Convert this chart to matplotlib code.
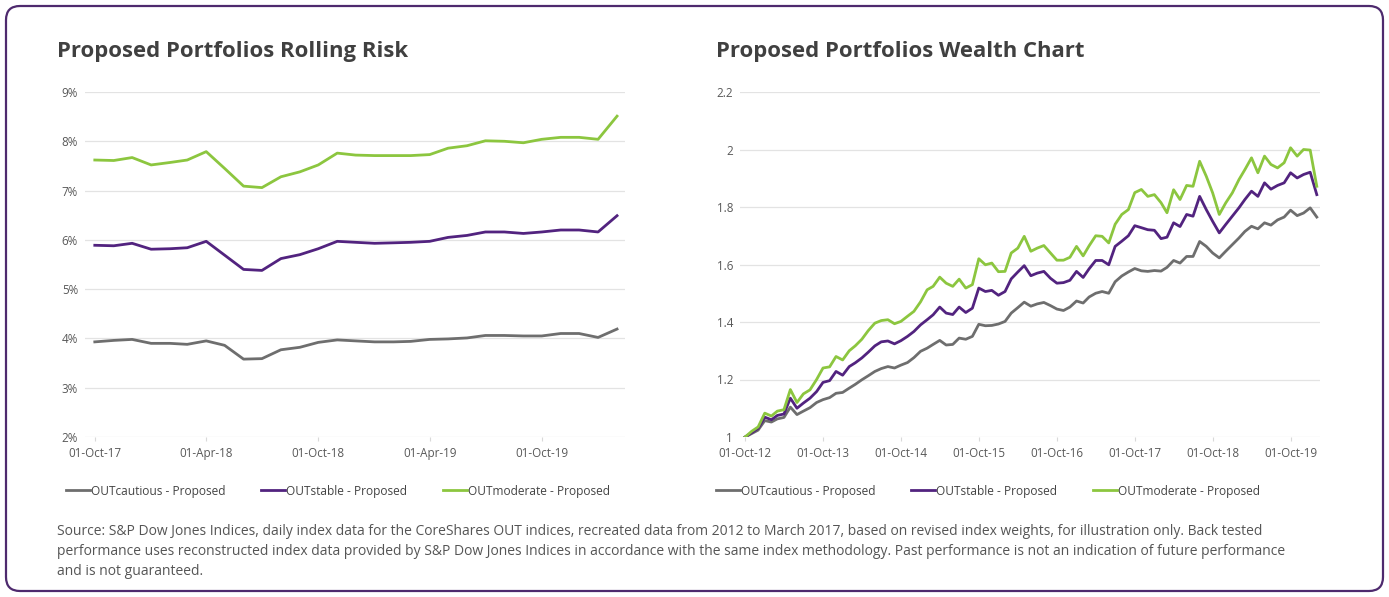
import matplotlib
matplotlib.use("Agg")
import matplotlib.pyplot as plt
import matplotlib.dates as mdates
from matplotlib.patches import FancyBboxPatch
from matplotlib.ticker import FuncFormatter
import numpy as np
import pandas as pd

plt.rcParams['font.family'] = ['Open Sans', 'DejaVu Sans']

# rolling risk, monthly Oct-17 .. Feb-20 (%)
risk_dates = pd.date_range("2017-10-01", periods=29, freq="MS")
risk_cautious = [3.93, 3.96, 3.98, 3.90, 3.90, 3.88, 3.95, 3.86, 3.58, 3.59,
                 3.77, 3.82, 3.92, 3.97, 3.95, 3.93, 3.93, 3.94, 3.98, 3.99,
                 4.01, 4.06, 4.06, 4.05, 4.05, 4.10, 4.10, 4.02, 4.19]
risk_stable = [5.89, 5.88, 5.93, 5.81, 5.82, 5.84, 5.97, 5.69, 5.40, 5.38,
               5.62, 5.70, 5.82, 5.97, 5.95, 5.93, 5.94, 5.95, 5.97, 6.05,
               6.09, 6.16, 6.16, 6.13, 6.16, 6.20, 6.20, 6.16, 6.49]
risk_moderate = [7.62, 7.61, 7.67, 7.52, 7.57, 7.62, 7.79, 7.45, 7.09, 7.06,
                 7.28, 7.38, 7.52, 7.76, 7.72, 7.71, 7.71, 7.71, 7.73, 7.86,
                 7.91, 8.01, 8.00, 7.97, 8.04, 8.08, 8.08, 8.04, 8.51]

# wealth, monthly Oct-12 .. Feb-20
wealth_dates = pd.date_range("2012-10-01", periods=89, freq="MS")
wealth_cautious = [1.000, 1.012, 1.024, 1.057, 1.052, 1.063, 1.068, 1.104, 1.078, 1.090,
                   1.102, 1.120, 1.130, 1.137, 1.152, 1.155, 1.170, 1.183, 1.199, 1.213,
                   1.228, 1.238, 1.245, 1.240, 1.250, 1.259, 1.276, 1.298, 1.309, 1.322,
                   1.336, 1.320, 1.322, 1.344, 1.340, 1.350, 1.392, 1.387, 1.388, 1.393,
                   1.402, 1.431, 1.450, 1.469, 1.455, 1.463, 1.468, 1.457, 1.445, 1.440,
                   1.452, 1.473, 1.466, 1.487, 1.500, 1.506, 1.500, 1.540, 1.560, 1.574,
                   1.586, 1.578, 1.576, 1.579, 1.577, 1.590, 1.614, 1.605, 1.628, 1.628,
                   1.680, 1.663, 1.640, 1.623, 1.646, 1.669, 1.692, 1.715, 1.733, 1.724,
                   1.745, 1.737, 1.755, 1.765, 1.789, 1.770, 1.779, 1.797, 1.765]
wealth_stable = [1.000, 1.015, 1.030, 1.069, 1.060, 1.075, 1.080, 1.135, 1.100, 1.118,
                 1.135, 1.158, 1.190, 1.196, 1.228, 1.215, 1.245, 1.258, 1.275, 1.295,
                 1.317, 1.331, 1.334, 1.324, 1.335, 1.350, 1.367, 1.390, 1.408, 1.425,
                 1.452, 1.431, 1.426, 1.452, 1.433, 1.448, 1.518, 1.506, 1.510, 1.493,
                 1.506, 1.550, 1.574, 1.596, 1.561, 1.570, 1.576, 1.552, 1.535, 1.537,
                 1.545, 1.576, 1.555, 1.585, 1.614, 1.614, 1.599, 1.663, 1.681, 1.700,
                 1.735, 1.728, 1.721, 1.719, 1.690, 1.695, 1.745, 1.732, 1.774, 1.768,
                 1.837, 1.791, 1.750, 1.710, 1.739, 1.768, 1.797, 1.826, 1.855, 1.837,
                 1.884, 1.862, 1.875, 1.884, 1.919, 1.901, 1.913, 1.921, 1.843]
wealth_moderate = [1.000, 1.020, 1.035, 1.083, 1.073, 1.090, 1.095, 1.165, 1.120, 1.150,
                   1.164, 1.200, 1.240, 1.244, 1.280, 1.268, 1.300, 1.317, 1.340, 1.370,
                   1.396, 1.405, 1.408, 1.394, 1.402, 1.420, 1.437, 1.470, 1.512, 1.524,
                   1.556, 1.535, 1.524, 1.549, 1.518, 1.530, 1.620, 1.599, 1.605, 1.575,
                   1.576, 1.640, 1.657, 1.698, 1.646, 1.657, 1.666, 1.640, 1.615, 1.615,
                   1.625, 1.663, 1.630, 1.665, 1.700, 1.698, 1.675, 1.740, 1.774, 1.791,
                   1.850, 1.861, 1.837, 1.843, 1.815, 1.780, 1.860, 1.826, 1.875, 1.872,
                   1.959, 1.907, 1.849, 1.774, 1.814, 1.849, 1.895, 1.930, 1.971, 1.919,
                   1.977, 1.948, 1.936, 1.954, 2.006, 1.977, 2.000, 1.998, 1.872]

labels = ["OUTcautious - Proposed", "OUTstable - Proposed", "OUTmoderate - Proposed"]
colors = ["#6e6e6e", "#52237f", "#8cc63f"]

W, H = 1389, 597
fig = plt.figure(figsize=(W / 100, H / 100), dpi=100)

# rounded purple frame
frame = FancyBboxPatch((6 / W, 6 / H), 1377 / W, 585 / H,
                       boxstyle="round,pad=0,rounding_size=%f" % (14 / W),
                       mutation_aspect=W / H, transform=fig.transFigure,
                       fc="none", ec="#4e2a6e", lw=1.6)
fig.patches.append(frame)


def style_axis(ax):
    for s in ax.spines.values():
        s.set_visible(False)
    ax.grid(axis="y", color="#e3e3e3", lw=0.9)
    ax.set_axisbelow(True)
    ax.tick_params(axis="y", length=0, pad=5, labelsize=8.4, labelcolor="#595959")
    ax.tick_params(axis="x", length=3, color="#d9d9d9", pad=4, labelsize=8.4,
                   labelcolor="#595959")


ax1 = fig.add_axes([85 / W, 1 - 437 / H, 540 / W, 345 / H])
for vals, c, lab in zip([risk_cautious, risk_stable, risk_moderate], colors, labels):
    ax1.plot(risk_dates, vals, color=c, lw=2.0, label=lab)
ax1.set_ylim(2, 9)
ax1.set_yticks(np.arange(2, 10, 1))
ax1.yaxis.set_major_formatter(FuncFormatter(lambda v, p: "%d%%" % v))
ax1.set_xlim(pd.Timestamp("2017-09-15"), pd.Timestamp("2020-02-14"))
ax1.set_xticks(pd.date_range("2017-10-01", "2019-10-01", freq="6MS"))
ax1.xaxis.set_major_formatter(mdates.DateFormatter("%d-%b-%y"))
style_axis(ax1)

ax2 = fig.add_axes([740 / W, 1 - 437 / H, 580 / W, 345 / H])
for vals, c, lab in zip([wealth_cautious, wealth_stable, wealth_moderate], colors, labels):
    ax2.plot(wealth_dates, vals, color=c, lw=2.0, label=lab)
ax2.set_ylim(1, 2.2)
ax2.set_yticks([1, 1.2, 1.4, 1.6, 1.8, 2, 2.2])
ax2.yaxis.set_major_formatter(FuncFormatter(lambda v, p: ("%g" % round(v, 1))))
ax2.set_xlim(pd.Timestamp("2012-09-07"), pd.Timestamp("2020-02-16"))
ax2.set_xticks(pd.date_range("2012-10-01", "2019-10-01", freq="12MS"))
ax2.xaxis.set_major_formatter(mdates.DateFormatter("%d-%b-%y"))
style_axis(ax2)

fig.text(57 / W, 1 - 52 / H, "Proposed Portfolios Rolling Risk", fontsize=15.9,
         fontweight="bold", color="#404040", va="center", ha="left")
fig.text(716 / W, 1 - 52 / H, "Proposed Portfolios Wealth Chart", fontsize=15.9,
         fontweight="bold", color="#404040", va="center", ha="left")

for ax, x0 in [(ax1, 66), (ax2, 716)]:
    h, l = ax.get_legend_handles_labels()
    fig.legend(h, l, loc="center left", bbox_to_anchor=(x0 / W, 1 - 491 / H),
               ncol=3, frameon=False, fontsize=8.6, handlelength=2.0,
               handletextpad=0.1, columnspacing=3.0, borderpad=0, borderaxespad=0,
               labelcolor="#444444")

source = ("Source: S&P Dow Jones Indices, daily index data for the CoreShares OUT indices, "
          "recreated data from 2012 to March 2017, based on revised index weights, for "
          "illustration only. Back tested\nperformance uses reconstructed index data provided "
          "by S&P Dow Jones Indices in accordance with the same index methodology. Past "
          "performance is not an indication of future performance\nand is not guaranteed.")
fig.text(57 / W, 1 - 524 / H, source, fontsize=10.0, color="#555555", va="top",
         ha="left", linespacing=1.45)

fig.savefig("out.png", dpi=100)
